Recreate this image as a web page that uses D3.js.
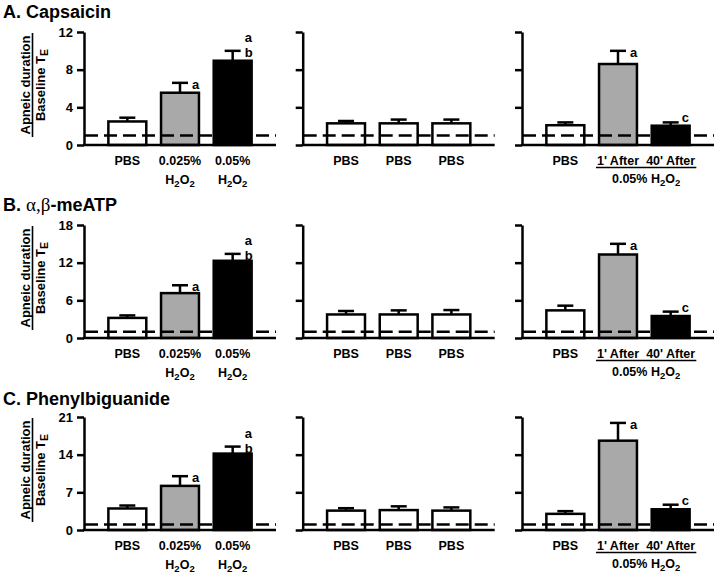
<!DOCTYPE html>
<html><head><meta charset="utf-8">
<script src="https://cdn.jsdelivr.net/npm/d3@7"></script>
<style>
html,body{margin:0;padding:0;background:#fff;}
text{font-family:"Liberation Sans",Arial,sans-serif;font-weight:bold;fill:#000;}
</style></head>
<body>
<svg id="chart" width="720" height="575"></svg>
<script>
// ---------- data ----------
const rowTitles = ["A. Capsaicin", "B. ", "C. Phenylbiguanide"];
const yMax = [12, 18, 21];
const yTicks = [[0, 4, 8, 12], [0, 6, 12, 18], [0, 7, 14, 21]];
const baselineRatio = 1;

const doseLabels = ["PBS", "0.025%", "0.05%"];
const doseHasH2O2 = [false, true, true];
const doseMeans = [[2.5, 5.55, 8.95], [3.2, 7.15, 12.3], [4.0, 8.2, 14.2]];
const doseSEM = [[0.4, 1.05, 1.05], [0.4, 1.25, 1.1], [0.55, 1.8, 1.3]];
const doseLetters = [["", "a", "ab"], ["", "a", "ab"], ["", "a", "ab"]];

const vehicleLabels = ["PBS", "PBS", "PBS"];
const vehicleMeans = [[2.3, 2.3, 2.3], [3.75, 3.75, 3.75], [3.6, 3.7, 3.6]];
const vehicleSEM = [[0.25, 0.4, 0.4], [0.55, 0.65, 0.7], [0.45, 0.7, 0.6]];

const recoveryLabels = ["PBS", "1' After", "40' After"];
const recoveryMeans = [[2.1, 8.6, 2.05], [4.4, 13.3, 3.5], [3.0, 16.6, 3.85]];
const recoverySEM = [[0.3, 1.4, 0.35], [0.75, 1.7, 0.7], [0.5, 3.3, 0.85]];
const recoveryLetters = [["", "a", "c"], ["", "a", "c"], ["", "a", "c"]];

// ---------- layout / style ----------
const rowZero = [145, 338, 530];
const plotH = 113;
const panelX = [84, 302.7, 522];
const panelW = 192;
const SW = 2.5;
const fills3 = ["#ffffff", "#a9a9a9", "#000000"];
const fillsWhite = ["#ffffff", "#ffffff", "#ffffff"];

const svg = d3.select("#chart");

function addH2O2(sel, x, y, size) {
  const t = sel.append("text").attr("x", x).attr("y", y).attr("text-anchor", "middle")
    .style("font-size", size + "px");
  t.append("tspan").text("H");
  t.append("tspan").attr("dy", 3).style("font-size", (size - 3) + "px").text("2");
  t.append("tspan").attr("dy", -3).text("O");
  t.append("tspan").attr("dy", 3).style("font-size", (size - 3) + "px").text("2");
  return t;
}

rowTitles.forEach((title, r) => {
  const zero = rowZero[r];
  const y = d3.scaleLinear().domain([0, yMax[r]]).range([zero, zero - plotH]);

  // title
  const tt = svg.append("text").attr("x", 3).attr("y", zero - plotH - 14 + (r === 2 ? 2 : 0))
    .style("font-size", "18px").text(title);
  if (r === 1) {
    tt.append("tspan").style("font-family", "'Liberation Serif','Times New Roman',serif")
      .style("font-weight", "normal").style("font-size", "19px").text("α,β");
    tt.append("tspan").text("-meATP");
  }

  // y-axis label (ratio)
  const cy = zero - 60;
  svg.append("text").attr("transform", `translate(30,${cy}) rotate(-90)`)
    .attr("text-anchor", "middle").style("font-size", "13px").text("Apneic duration");
  svg.append("line").attr("x1", 32.5).attr("x2", 32.5).attr("y1", cy - 52).attr("y2", cy + 52)
    .attr("stroke", "#000").attr("stroke-width", 1.6);
  const bl = svg.append("text").attr("transform", `translate(45,${cy}) rotate(-90)`)
    .attr("text-anchor", "middle").style("font-size", "13px");
  bl.append("tspan").text("Baseline T");
  bl.append("tspan").attr("dy", 3).style("font-size", "10.5px").text("E");

  const panels = [
    {means: doseMeans[r], sem: doseSEM[r], fills: fills3, letters: doseLetters[r], labels: doseLabels, kind: "dose"},
    {means: vehicleMeans[r], sem: vehicleSEM[r], fills: fillsWhite, letters: ["", "", ""], labels: vehicleLabels, kind: "veh"},
    {means: recoveryMeans[r], sem: recoverySEM[r], fills: fills3, letters: recoveryLetters[r], labels: recoveryLabels, kind: "rec"}
  ];

  panels.forEach((P, p) => {
    const g = svg.append("g").attr("transform", `translate(${panelX[p]},0)`);
    const x = d3.scaleBand().domain([0, 1, 2]).range([17, 175]).paddingInner(0.28).paddingOuter(0.14);
    const bw = x.bandwidth();

    // bars
    g.selectAll("rect.bar").data(P.means).join("rect").attr("class", "bar")
      .attr("x", (d, i) => x(i)).attr("y", d => y(d))
      .attr("width", bw).attr("height", d => zero - y(d))
      .attr("fill", (d, i) => P.fills[i]).attr("stroke", "#000").attr("stroke-width", SW);

    // error bars (upper only)
    P.means.forEach((m, i) => {
      const cx = x(i) + bw / 2;
      const top = y(m + P.sem[i]);
      g.append("line").attr("x1", cx).attr("x2", cx).attr("y1", y(m)).attr("y2", top)
        .attr("stroke", "#000").attr("stroke-width", SW);
      g.append("line").attr("x1", cx - 8).attr("x2", cx + 8).attr("y1", top).attr("y2", top)
        .attr("stroke", "#000").attr("stroke-width", SW);
      const L = P.letters[i];
      if (L === "ab") {
        g.append("text").attr("x", cx + 12).attr("y", top - 9).style("font-size", "13px").text("a");
        g.append("text").attr("x", cx + 12).attr("y", top + 6).style("font-size", "13px").text("b");
      } else if (L === "a") {
        g.append("text").attr("x", cx + 12).attr("y", top + 6).style("font-size", "13px").text("a");
      } else if (L === "c") {
        g.append("text").attr("x", cx + 11).attr("y", top + 0).style("font-size", "13px").text("c");
      }
    });

    // axis
    const axis = d3.axisLeft(y).tickValues(yTicks[r]).tickSizeInner(7).tickSizeOuter(0)
      .tickPadding(4).tickFormat(p === 0 ? d3.format("d") : () => "");
    const ag = g.append("g").call(axis);
    ag.select(".domain").attr("stroke-width", SW);
    ag.selectAll(".tick line").attr("stroke-width", SW);
    ag.selectAll(".tick text").style("font-size", "13px").style("font-family", "'Liberation Sans',Arial,sans-serif")
      .style("font-weight", "bold").attr("fill", "#000");

    // baseline
    g.append("line").attr("x1", -1).attr("x2", panelW).attr("y1", zero).attr("y2", zero)
      .attr("stroke", "#000").attr("stroke-width", SW);
    // dashed reference line at ratio = 1
    g.append("line").attr("x1", 1).attr("x2", panelW).attr("y1", y(baselineRatio)).attr("y2", y(baselineRatio))
      .attr("stroke", "#000").attr("stroke-width", SW).attr("stroke-dasharray", "13,6");

    // category labels
    if (P.kind === "rec") {
      const texts = [];
      P.labels.forEach((lab, i) => {
        const t = g.append("text").attr("x", x(i) + bw / 2).attr("y", zero + 19.5)
          .attr("text-anchor", "middle").style("font-size", "12.5px").text(lab);
        if (i > 0) texts.push(t.node());
      });
      const b1 = texts[0].getBBox(), b2 = texts[1].getBBox();
      const ux1 = b1.x - 1, ux2 = b2.x + b2.width + 1;
      g.append("line").attr("x1", ux1).attr("x2", ux2).attr("y1", zero + 22.5).attr("y2", zero + 22.5)
        .attr("stroke", "#000").attr("stroke-width", 1.6);
      const t2 = g.append("text").attr("x", (ux1 + ux2) / 2).attr("y", zero + 38)
        .attr("text-anchor", "middle").style("font-size", "12.5px");
      t2.append("tspan").text("0.05%  H");
      t2.append("tspan").attr("dy", 3).style("font-size", "9.5px").text("2");
      t2.append("tspan").attr("dy", -3).text("O");
      t2.append("tspan").attr("dy", 3).style("font-size", "9.5px").text("2");
    } else {
      P.labels.forEach((lab, i) => {
        g.append("text").attr("x", x(i) + bw / 2).attr("y", zero + 20)
          .attr("text-anchor", "middle").style("font-size", "12.5px").text(lab);
        if (P.kind === "dose" && doseHasH2O2[i]) addH2O2(g, x(i) + bw / 2, zero + 38.5, 12.5);
      });
    }
  });
});
</script>
</body></html>
